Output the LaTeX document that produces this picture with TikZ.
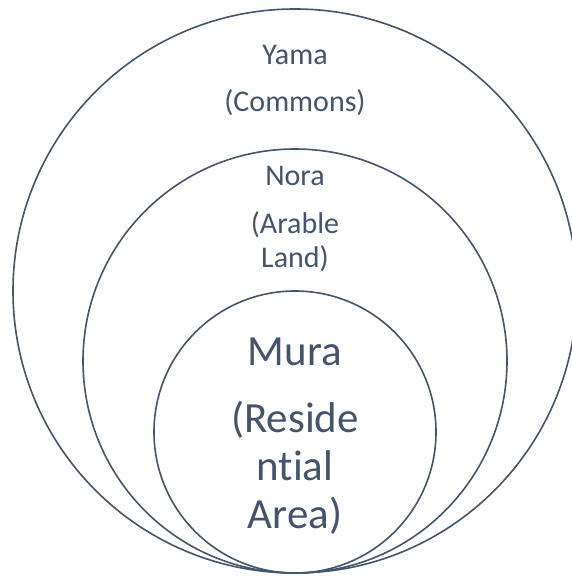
\documentclass[tikz,border=0pt]{standalone}
\usepackage{fontspec}
\setmainfont{Carlito}[Ligatures=NoCommon]
\definecolor{slate}{HTML}{44546A}
\tikzset{
  ring/.style={draw=slate, line width=1.6bp, circle, inner sep=0pt},
  smalltxt/.style={text=slate, anchor=base, inner sep=0pt, font=\fontsize{30bp}{36bp}\selectfont},
  bigtxt/.style={text=slate, anchor=base, inner sep=0pt, font=\fontsize{43bp}{52bp}\selectfont}
}
\begin{document}
\begin{tikzpicture}[x=1bp,y=-1bp]
\useasboundingbox ( 0, 0 ) rectangle ( 572, 576 );

% Ringe
\node[ring, minimum size=564bp] (yama) at ( 295, 291 ) {};
\node[ring, minimum size=424bp] (nora) at ( 295, 361 ) {};
\node[ring, minimum size=282bp] (mura) at ( 295, 432 ) {};

% Yama
\node[smalltxt] (yamaname) at ( 295,  65 ) {Yama};
\node[smalltxt] (yamanote) at ( 295, 112 ) {(Commons)};

% Nora
\node[smalltxt] (noraname)  at ( 295, 185 ) {Nora};
\node[smalltxt] (noranotea) at ( 295, 233 ) {(Arable};
\node[smalltxt] (noranoteb) at ( 295, 267 ) {Land)};

% Mura
\node[bigtxt] (muraname)  at ( 295, 365 ) {Mura};
\node[bigtxt] (muranotea) at ( 295, 432 ) {(Reside};
\node[bigtxt] (muranoteb) at ( 295, 480 ) {ntial};
\node[bigtxt] (muranotec) at ( 295, 528 ) {Area)};

\end{tikzpicture}
\end{document}
